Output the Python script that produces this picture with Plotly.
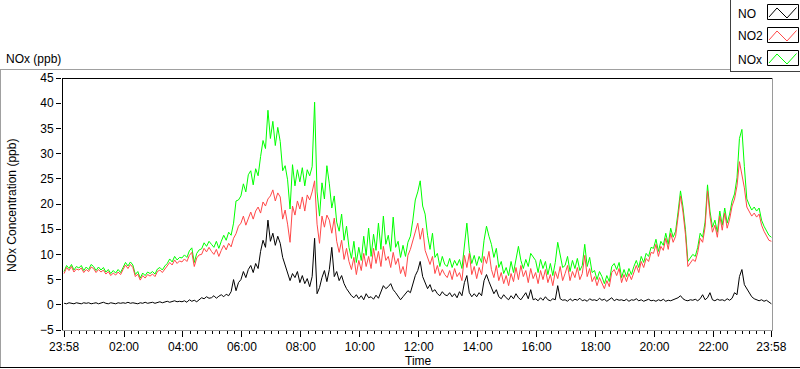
import pandas as pd
import plotly.graph_objects as go

# ---------------- data (5-minute samples, 23:58 -> 23:58 next day) ----------------
start_time = "2020-01-01 23:58"
sample_step = "5min"

no_ppb = [
    0.3, 0.2, 0.4, 0.3, 0.2, 0.4, 0.3, 0.2, 0.4, 0.3, 0.4, 0.2,
    0.3, 0.4, 0.2, 0.3, 0.5, 0.3, 0.2, 0.4, 0.3, 0.2, 0.4, 0.3,
    0.4, 0.3, 0.5, 0.3, 0.4, 0.3, 0.2, 0.4, 0.3, 0.5, 0.3, 0.4,
    0.5, 0.3, 0.4, 0.6, 0.4, 0.5, 0.7, 0.5, 0.6, 0.8, 0.6, 0.7,
    0.6, 0.8, 0.5, 1.0, 0.7, 0.9, 0.6, 1.1, 1.4, 1.2, 1.6, 1.3,
    1.4, 1.8, 1.3, 1.7, 2.0, 1.6, 2.1, 1.8, 2.6, 5.0, 2.8, 4.4,
    5.0, 6.6, 5.4, 7.0, 7.8, 6.4, 8.2, 7.2, 10.6, 12.8, 11.4, 16.8,
    12.6, 14.2, 11.8, 13.6, 12.2, 9.4, 8.0, 6.6, 4.8, 6.2, 5.4, 6.6,
    4.4, 5.8, 4.2, 5.2, 3.6, 5.6, 13.2, 2.2, 3.4, 5.4, 6.8, 4.6,
    7.0, 11.4, 5.6, 6.6, 4.8, 5.8, 4.2, 3.2, 2.4, 1.8, 1.4, 2.0,
    1.2, 1.8, 1.0, 2.2, 1.4, 1.6, 1.1, 1.9, 1.3, 2.6, 3.8, 3.2,
    3.6, 4.2, 3.0, 2.4, 1.8, 1.0, 1.6, 2.2, 2.8, 2.4, 4.4, 5.8,
    6.8, 8.6, 5.6, 4.4, 3.2, 4.0, 2.6, 3.0, 2.2, 1.8, 2.6, 2.0,
    1.8, 2.4, 1.6, 2.2, 1.4, 2.6, 1.8, 4.4, 5.8, 2.4, 1.6, 2.2,
    1.6, 2.4, 1.8, 4.8, 6.0, 4.6, 3.4, 2.2, 3.0, 1.6, 1.2, 2.0,
    1.4, 1.0, 1.8, 1.2, 2.2, 1.4, 1.0, 1.6, 2.4, 1.2, 3.0, 1.0,
    1.2, 0.8, 1.4, 0.9, 1.6, 1.0, 0.8, 1.2, 1.0, 3.8, 1.2, 0.9,
    1.0, 0.7, 1.2, 0.8, 1.1, 0.9, 1.3, 0.8, 1.0, 0.7, 1.2, 0.9,
    1.0, 0.8, 1.3, 0.9, 1.1, 0.7, 1.0, 1.4, 0.8, 1.1, 0.9, 1.0,
    0.8, 1.1, 0.7, 1.0, 0.9, 1.2, 0.8, 1.0, 0.7, 0.9, 1.1, 0.8,
    0.9, 0.7, 1.0, 0.8, 1.1, 0.7, 0.9, 0.8, 1.0, 1.2, 1.4, 1.8,
    1.2, 0.9, 0.8, 1.0, 0.9, 1.1, 0.8, 1.2, 2.0, 1.0, 1.4, 2.4,
    1.0, 0.8, 1.1, 0.9, 1.0, 0.8, 1.2, 0.9, 1.3, 2.4, 2.0, 5.6,
    7.0, 4.0, 3.2, 2.2, 1.6, 1.2, 1.0, 0.8, 1.0, 0.7, 0.9, 0.6,
    0.2,
]

no2_ppb = [
    6.2, 7.4, 6.8, 7.6, 6.5, 7.1, 6.9, 7.3, 6.4, 7.0, 6.6, 7.5,
    7.2, 6.4, 7.0, 6.5, 6.9, 6.1, 6.6, 5.8, 6.3, 5.9, 6.5, 6.0,
    7.0, 7.9, 7.2, 8.0, 7.4, 5.6, 6.1, 4.9, 5.8, 5.3, 6.0, 5.7,
    6.1, 5.6, 6.6, 6.9, 6.4, 7.1, 7.6, 8.4, 7.9, 8.9, 8.2, 8.7,
    8.5, 9.1, 8.6, 9.8, 10.4, 7.6, 9.3, 9.9, 10.0, 11.2, 10.5, 11.4,
    10.6, 10.0, 11.0, 9.6, 10.8, 11.8, 10.9, 12.2, 11.5, 13.2, 14.1, 15.6,
    16.2, 17.6, 15.8, 17.2, 18.4, 17.0, 18.6, 19.4, 18.2, 20.4, 19.6, 21.0,
    21.6, 22.8, 20.6, 22.2, 21.4, 17.0, 18.8, 16.0, 12.4, 19.6, 17.8, 20.6,
    19.0, 21.4, 18.6, 21.8, 20.8, 22.4, 24.6, 16.0, 12.2, 17.6, 15.4, 17.8,
    16.8, 14.2, 17.2, 12.6, 10.4, 12.8, 9.0, 11.2, 8.6, 7.0, 9.4, 6.0,
    8.8, 6.8, 10.2, 7.6, 9.6, 7.2, 11.2, 8.2, 10.6, 7.6, 11.6, 8.8,
    9.6, 7.4, 10.4, 8.0, 9.2, 6.2, 7.6, 5.6, 9.8, 11.0, 12.8, 14.6,
    16.2, 13.0, 15.2, 10.8, 9.2, 8.0, 9.6, 6.2, 7.8, 5.8, 7.0, 6.0,
    5.4, 6.8, 5.0, 7.2, 5.6, 6.4, 4.8, 9.8, 7.4, 10.2, 6.0, 7.6,
    5.2, 7.4, 6.0, 9.6, 8.2, 10.6, 7.0, 5.4, 7.8, 4.8, 6.4, 4.2,
    5.8, 3.8, 6.2, 4.6, 7.4, 5.0, 7.8, 5.6, 6.8, 4.4, 7.2, 5.2,
    6.4, 4.2, 6.8, 5.0, 7.0, 4.4, 6.0, 3.8, 6.6, 5.2, 7.6, 4.8,
    6.2, 7.8, 4.8, 6.6, 5.4, 7.4, 5.0, 6.2, 9.8, 5.6, 7.2, 4.6,
    5.6, 3.8, 5.4, 4.4, 3.2, 4.8, 3.6, 6.4, 7.0, 5.8, 7.2, 4.4,
    6.0, 4.6, 6.2, 5.0, 6.6, 7.8, 6.4, 8.6, 7.4, 9.2, 8.6, 10.4,
    10.2, 12.0, 9.6, 11.6, 10.8, 13.2, 11.0, 14.2, 12.4, 13.6, 17.4, 21.6,
    18.4, 14.0, 7.6, 8.4, 9.0, 8.6, 10.4, 13.2, 12.4, 15.4, 22.6, 17.6,
    14.4, 15.8, 13.4, 17.6, 14.8, 18.2, 15.2, 17.0, 19.6, 21.0, 23.6, 28.4,
    25.8, 23.2, 19.4, 18.4, 17.6, 18.2, 17.4, 18.0, 15.8, 14.6, 13.8, 12.8,
    12.6,
]

nox_ppb = [
    6.6, 7.8, 7.2, 8.0, 6.9, 7.6, 7.3, 7.8, 6.8, 7.5, 7.0, 8.0,
    7.6, 6.8, 7.5, 6.9, 7.4, 6.5, 7.0, 6.2, 6.8, 6.3, 7.0, 6.4,
    7.4, 8.4, 7.7, 8.5, 7.9, 6.0, 6.6, 5.3, 6.3, 5.8, 6.5, 6.2,
    6.6, 6.1, 7.1, 7.4, 6.9, 7.7, 8.2, 9.1, 8.5, 9.6, 8.9, 9.4,
    9.3, 9.9, 9.4, 10.7, 11.3, 8.4, 10.2, 10.9, 11.1, 12.3, 11.6, 12.6,
    12.0, 11.4, 12.6, 11.2, 12.6, 13.8, 12.8, 14.4, 13.8, 16.2, 20.6, 20.8,
    21.6, 24.0, 22.4, 25.8, 26.6, 23.8, 27.0, 25.6, 29.4, 32.6, 31.0, 38.6,
    33.0, 36.4, 31.6, 35.2, 32.4, 26.6, 27.6, 24.8, 19.0, 27.8, 23.6, 26.8,
    24.4, 27.2, 23.6, 26.8, 25.6, 27.4, 40.2, 22.4, 17.6, 24.2, 21.0, 27.6,
    24.0, 19.2, 21.6, 16.4, 14.6, 18.0, 12.8, 15.6, 11.4, 9.2, 12.6, 8.4,
    11.4, 8.8, 13.6, 9.8, 15.2, 9.6, 14.0, 10.8, 16.2, 11.0, 17.6, 12.0,
    13.8, 10.6, 17.4, 11.4, 12.6, 9.4, 11.8, 9.6, 12.4, 13.6, 16.8, 20.8,
    22.4, 24.6, 19.6, 18.0, 13.8, 11.0, 14.2, 9.4, 10.2, 7.6, 9.6, 8.0,
    7.6, 9.2, 7.4, 8.8, 7.8, 9.0, 7.2, 12.4, 16.2, 10.8, 8.2, 9.8,
    7.8, 9.6, 8.4, 12.8, 15.6, 13.6, 12.0, 9.4, 11.2, 7.4, 8.6, 6.2,
    7.4, 5.8, 8.6, 6.4, 9.2, 11.6, 8.8, 7.2, 9.0, 7.6, 10.2, 9.4,
    8.8, 6.4, 9.0, 7.2, 8.6, 6.0, 8.2, 5.8, 8.4, 12.4, 9.8, 7.4,
    7.8, 9.6, 6.6, 8.8, 7.2, 9.2, 6.8, 7.8, 12.0, 7.6, 9.4, 6.4,
    6.8, 5.0, 6.6, 5.6, 4.2, 5.8, 4.6, 7.6, 8.2, 7.0, 8.4, 5.4,
    7.0, 5.6, 7.2, 6.0, 7.6, 8.8, 7.4, 9.6, 8.4, 10.2, 9.6, 11.4,
    11.2, 13.0, 10.6, 12.6, 11.8, 14.2, 12.0, 15.2, 13.4, 14.6, 18.4, 22.6,
    19.4, 15.0, 8.6, 9.4, 10.0, 9.6, 11.4, 14.2, 13.4, 16.4, 23.8, 18.6,
    15.4, 16.8, 14.4, 18.6, 15.8, 19.2, 16.2, 18.0, 20.6, 22.0, 25.2, 33.0,
    34.8, 27.4, 21.0, 19.8, 18.8, 19.4, 18.6, 19.2, 16.8, 15.6, 14.8, 13.8,
    13.4,
]

tick_times = ["2020-01-01 23:58", "2020-01-02 02:00", "2020-01-02 04:00",
              "2020-01-02 06:00", "2020-01-02 08:00", "2020-01-02 10:00",
              "2020-01-02 12:00", "2020-01-02 14:00", "2020-01-02 16:00",
              "2020-01-02 18:00", "2020-01-02 20:00", "2020-01-02 22:00",
              "2020-01-02 23:58"]
tick_labels = ["23:58", "02:00", "04:00", "06:00", "08:00", "10:00", "12:00",
               "14:00", "16:00", "18:00", "20:00", "22:00", "23:58"]
series_names = ["NO", "NO2", "NOx"]

# ---------------- figure ----------------
times = pd.date_range(start_time, periods=len(no_ppb), freq=sample_step)
tick_dt = pd.to_datetime(tick_times)
minor_dt = []
for a, b in zip(tick_dt[:-1], tick_dt[1:]):
    step = (b - a) / 8
    minor_dt += [a + step * k for k in range(1, 8)]

W, H = 800, 369
L, R, T, B = 62, 773, 78, 330
FONT = "Liberation Sans, Arial, sans-serif"


def px(x):
    return (x - L) / (R - L)


def py(y):
    return (B - y) / (B - T)


fig = go.Figure()
fig.add_trace(go.Scatter(x=times, y=nox_ppb, mode="lines", name=series_names[2],
                         line=dict(color="#00ff00", width=1)))
fig.add_trace(go.Scatter(x=times, y=no2_ppb, mode="lines", name=series_names[1],
                         line=dict(color="#ff4848", width=1)))
fig.add_trace(go.Scatter(x=times, y=no_ppb, mode="lines", name=series_names[0],
                         line=dict(color="#000000", width=1)))

t0 = times[0] - pd.Timedelta(minutes=4.3)
t1 = times[-1] + pd.Timedelta(minutes=3.3)

fig.update_layout(
    width=W, height=H,
    margin=dict(l=L, r=W - R, t=T, b=H - B, pad=0),
    paper_bgcolor="white", plot_bgcolor="white",
    showlegend=False,
    font=dict(family=FONT, size=12, color="#000000"),
    xaxis=dict(type="date", range=[t0, t1], tickmode="array",
               tickvals=list(tick_dt), ticktext=tick_labels,
               ticks="outside", ticklen=6, tickwidth=1, tickcolor="#000",
               showgrid=False, zeroline=False, showline=False,
               minor=dict(tickmode="array", tickvals=minor_dt, ticks="outside",
                          ticklen=3, tickwidth=1, tickcolor="#000", showgrid=False),
               tickfont=dict(family=FONT, size=12, color="#000")),
    yaxis=dict(range=[-5, 45], tickmode="linear", tick0=-5, dtick=5,
               ticks="outside", ticklen=5, tickwidth=1, tickcolor="#000",
               showgrid=False, zeroline=False, showline=False,
               tickfont=dict(family=FONT, size=12, color="#000")),
)

shapes = []


def hline(y, x0, x1, color, width=1):
    shapes.append(dict(type="line", xref="paper", yref="paper",
                       x0=px(x0), x1=px(x1), y0=py(y), y1=py(y),
                       line=dict(color=color, width=width), layer="above"))


def vline(x, y0, y1, color, width=1):
    shapes.append(dict(type="line", xref="paper", yref="paper",
                       x0=px(x), x1=px(x), y0=py(y0), y1=py(y1),
                       line=dict(color=color, width=width), layer="above"))


# plot frame (sunken look)
vline(62.5, 78, 331, "#000000")
hline(78.5, 62, 773, "#000000")
vline(772.5, 78, 331, "#9a9a9a")
hline(330.5, 62, 773, "#9a9a9a")

# outer panel frame
hline(69.5, 0, 731, "#a0a0a0")
vline(0.5, 69, 368, "#a0a0a0")
hline(367.5, 0, 800, "#000000")

# legend box
vline(730.5, 0, 72, "#404040")
hline(71.5, 730, 800, "#404040")

legend_colors = ["#000000", "#ff4848", "#00ff00"]
for i, (name, col) in enumerate(zip(series_names, legend_colors)):
    top = 4 + 23 * i
    shapes.append(dict(type="rect", xref="paper", yref="paper",
                       x0=px(767.5), x1=px(798.5), y0=py(top + 0.5), y1=py(top + 15.5),
                       line=dict(color="#000000", width=1), fillcolor="white", layer="above"))
    pts = [(769, top + 13), (777, top + 4), (787, top + 14), (796.5, top + 3.5)]
    path = "M " + " L ".join(f"{px(x):.5f},{py(y):.5f}" for x, y in pts)
    shapes.append(dict(type="path", xref="paper", yref="paper", path=path,
                       line=dict(color=col, width=1), layer="above"))
    fig.add_annotation(xref="paper", yref="paper", x=px(736), y=py(top + 9.5),
                       text=name, showarrow=False, xanchor="left", yanchor="middle",
                       font=dict(family=FONT, size=12, color="#000"))

fig.update_layout(shapes=shapes)

fig.add_annotation(xref="paper", yref="paper", x=px(4), y=py(59),
                   text="NOx (ppb)", showarrow=False, xanchor="left", yanchor="middle",
                   font=dict(family=FONT, size=12, color="#000"))
fig.add_annotation(xref="paper", yref="paper", x=px(12), y=py(206),
                   text="NOx Concentration (ppb)", showarrow=False, textangle=-90,
                   xanchor="center", yanchor="middle",
                   font=dict(family=FONT, size=12, color="#000"))
fig.add_annotation(xref="paper", yref="paper", x=px(418), y=py(361),
                   text="Time", showarrow=False, xanchor="center", yanchor="middle",
                   font=dict(family=FONT, size=12, color="#000"))

fig.write_html("out.html", config={"displayModeBar": False},
               post_script="document.body.style.margin='0';document.body.style.overflow='hidden';")
